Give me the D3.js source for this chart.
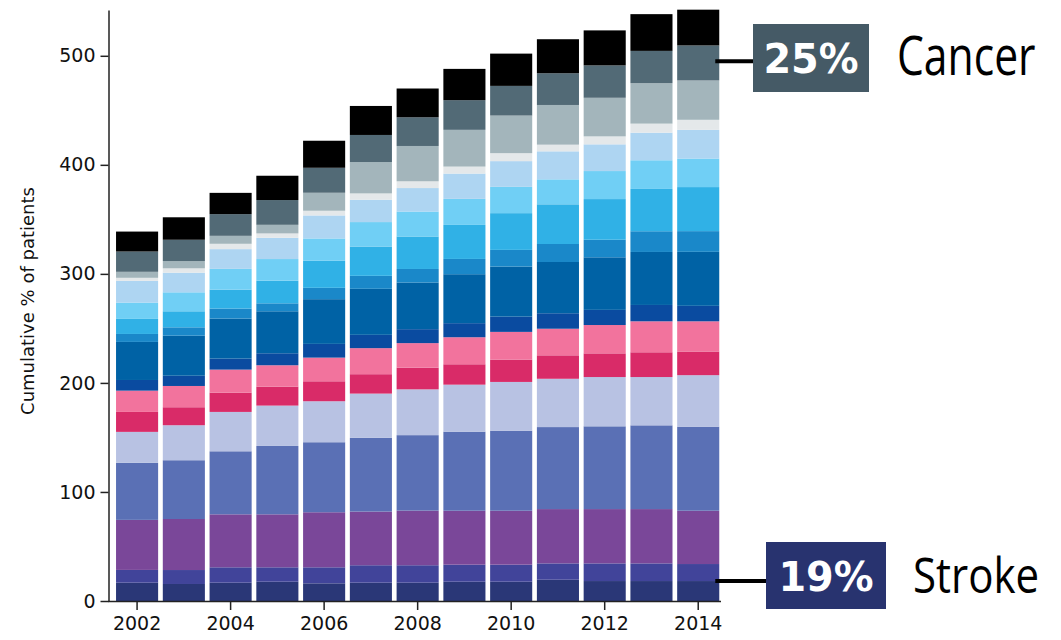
<!DOCTYPE html>
<html>
<head>
<meta charset="utf-8">
<script src="https://cdn.jsdelivr.net/npm/d3@7"></script>
<style>
  body { margin: 0; background: #fff; }
  svg { display: block; }
</style>
</head>
<body>
<div class="main"></div>
<script>
// Years on the x axis
let years = [2002, 2003, 2004, 2005, 2006, 2007, 2008, 2009, 2010, 2011, 2012, 2013, 2014];
let yearLabels = [2002, 2004, 2006, 2008, 2010, 2012, 2014];
let yTicks = [0, 100, 200, 300, 400, 500];

// Layers, bottom to top (% of patients)
let stroke    = [16.8, 15.6, 16.8, 17.7, 16.2, 16.8, 16.8, 17.7, 17.7, 19.5, 18.3, 18.3, 18.3];
let layer2    = [11.7, 12.8, 14.1, 13.2, 14.7, 16.0, 16.0, 15.6, 15.6, 15.0, 16.2, 16.2, 15.6];
let layer3    = [45.9, 46.8, 48.6, 48.6, 50.5, 49.2, 50.1, 49.5, 49.5, 49.8, 49.8, 49.8, 48.9];
let layer4    = [52.3, 53.9, 57.8, 62.7, 64.2, 67.6, 69.2, 72.5, 73.4, 75.2, 75.9, 76.8, 77.1];
let layer5    = [28.4, 32.1, 36.1, 37.0, 37.6, 40.6, 42.0, 43.1, 44.7, 44.3, 45.2, 44.3, 47.2];
let layer6    = [18.3, 16.5, 17.7, 17.4, 18.3, 17.8, 19.9, 18.7, 20.5, 21.5, 21.7, 22.7, 21.7];
let layer7    = [19.5, 19.5, 21.1, 19.6, 21.7, 23.9, 22.5, 24.8, 25.4, 24.4, 26.0, 28.4, 27.7];
let layer8    = [9.8, 9.4, 10.1, 11.0, 12.6, 12.2, 12.8, 12.9, 14.0, 14.2, 13.9, 15.0, 14.2];
let layer9    = [34.9, 36.7, 36.7, 38.5, 41.0, 42.2, 42.8, 44.9, 45.9, 47.0, 48.2, 48.6, 49.5];
let layer10   = [7.3, 7.7, 9.2, 7.3, 10.4, 11.9, 12.4, 14.0, 15.3, 16.5, 16.1, 19.0, 19.0];
let layer11   = [13.8, 14.7, 17.4, 20.7, 24.8, 26.9, 29.8, 31.2, 33.7, 36.4, 37.3, 38.8, 40.4];
let layer12   = [15.0, 17.4, 19.0, 19.9, 20.5, 22.4, 22.9, 23.9, 24.1, 22.9, 25.7, 26.3, 26.2];
let layer13   = [19.9, 18.0, 18.1, 19.5, 21.1, 20.5, 21.5, 23.2, 23.6, 25.7, 24.5, 25.3, 26.3];
let layer14   = [2.8, 4.0, 4.9, 4.0, 4.3, 5.8, 6.2, 6.4, 7.3, 6.1, 7.3, 8.3, 9.2];
let layer15   = [5.5, 6.7, 7.3, 7.9, 16.5, 28.8, 32.4, 33.7, 34.5, 36.4, 35.4, 37.1, 36.1];
let cancer    = [18.6, 19.5, 19.9, 22.7, 22.9, 24.8, 26.3, 27.2, 27.2, 29.1, 29.7, 29.6, 32.1];
let layer17   = [18.3, 20.6, 19.5, 22.3, 24.8, 26.6, 26.4, 28.7, 29.6, 31.2, 32.1, 33.7, 32.8];

let series = [stroke, layer2, layer3, layer4, layer5, layer6, layer7, layer8, layer9,
              layer10, layer11, layer12, layer13, layer14, layer15, cancer, layer17];
let colors = ["#2a3777", "#41449a", "#7a4799", "#5a70b5", "#b8c2e3", "#d92b68", "#f2739d",
              "#0a4ba0", "#0062a5", "#1a88c9", "#30b1e6", "#70cff5", "#aed5f2", "#e4e8ea",
              "#a3b5bb", "#526a76", "#000000"];

let width = 1061, height = 640;
let svg = d3.select("div.main").append("svg")
    .attr("width", width)
    .attr("height", height);

// Build rows for d3.stack
let keys = series.map((s, i) => "k" + i);
let rows = years.map(function(yr, j) {
    let r = { year: yr };
    series.forEach(function(s, i) { r[keys[i]] = s[j]; });
    return r;
});
let stacked = d3.stack().keys(keys)(rows);

let x = d3.scaleBand()
    .domain(years)
    .range([113.7, 721.6])
    .paddingInner(0.1)
    .paddingOuter(0.05);

let y = d3.scaleLinear()
    .domain([0, 542])
    .range([601, 10]);

// Bars
let layers = svg.append("g").selectAll("g")
    .data(stacked)
    .join("g")
    .attr("fill", (d, i) => colors[i]);

layers.selectAll("rect")
    .data(d => d)
    .join("rect")
    .attr("x", d => x(d.data.year))
    .attr("width", x.bandwidth())
    .attr("y", d => y(d[1]))
    .attr("height", d => y(d[0]) - y(d[1]));

// Y axis
let yAxis = svg.append("g")
    .attr("transform", "translate(108.5,0)")
    .call(d3.axisLeft(y).tickValues(yTicks).tickSize(8).tickPadding(5).tickSizeOuter(0));
yAxis.select(".domain").attr("stroke", "#222").attr("stroke-width", 1.5);
yAxis.selectAll(".tick line").attr("stroke", "#222").attr("stroke-width", 1.5);
yAxis.selectAll("text")
    .attr("font-family", "DejaVu Sans")
    .attr("font-size", 19)
    .attr("fill", "#111");

// X axis
let xAxis = svg.append("g")
    .attr("transform", "translate(0,601)")
    .call(d3.axisBottom(x).tickValues(yearLabels).tickSize(9).tickPadding(7).tickSizeOuter(0));
xAxis.select(".domain")
    .attr("d", "M108,0.5H721")
    .attr("stroke", "#222").attr("stroke-width", 1.5);
xAxis.selectAll(".tick line").attr("stroke", "#222").attr("stroke-width", 1.5);
xAxis.selectAll("text")
    .attr("font-family", "DejaVu Sans")
    .attr("font-size", 19)
    .attr("fill", "#111");

// Y axis title
svg.append("text")
    .attr("transform", "translate(34,301) rotate(-90)")
    .attr("text-anchor", "middle")
    .attr("font-family", "DejaVu Sans")
    .attr("font-size", 18)
    .attr("fill", "#111")
    .text("Cumulative % of patients");

// Callouts for the last bar
let last = stacked[0].length - 1;
let cancerIdx = series.indexOf(cancer);
let cancerSeg = stacked[cancerIdx][last];
let cancerY = y(cancerSeg[0] + 0.55 * (cancerSeg[1] - cancerSeg[0]));
let strokeY = y(stacked[0][last][1]);
let barEnd = x(years[last]) + x.bandwidth();

function callout(lineY, boxX, boxY, boxW, boxH, boxColor, pct, name, nameX, nameSize, squeeze) {
    svg.append("line")
        .attr("x1", barEnd - 4).attr("x2", boxX + 12)
        .attr("y1", lineY).attr("y2", lineY)
        .attr("stroke", "#000").attr("stroke-width", 4);
    svg.append("rect")
        .attr("x", boxX).attr("y", boxY)
        .attr("width", boxW).attr("height", boxH)
        .attr("fill", boxColor);
    svg.append("text")
        .attr("transform", "translate(" + (boxX + boxW / 2) + "," + (boxY + boxH / 2 + 15) + ") scale(0.97,1)")
        .attr("text-anchor", "middle")
        .attr("font-family", "DejaVu Sans")
        .attr("font-weight", "bold")
        .attr("font-size", 41)
        .attr("fill", "#fff")
        .text(pct);
    svg.append("text")
        .attr("transform", "translate(" + nameX + "," + (boxY + boxH / 2 + 17) + ") scale(" + squeeze + ",1)")
        .attr("font-family", "Open Sans")
        .attr("font-size", nameSize)
        .attr("fill", "#000")
        .text(name);
}

callout(cancerY, 753, 24, 116, 68, "#455a66", "25%", "Cancer", 897, 54, 0.79);
callout(strokeY, 766, 542, 120, 67, "#28336f", "19%", "Stroke", 913, 50, 0.84);
</script>
</body>
</html>
